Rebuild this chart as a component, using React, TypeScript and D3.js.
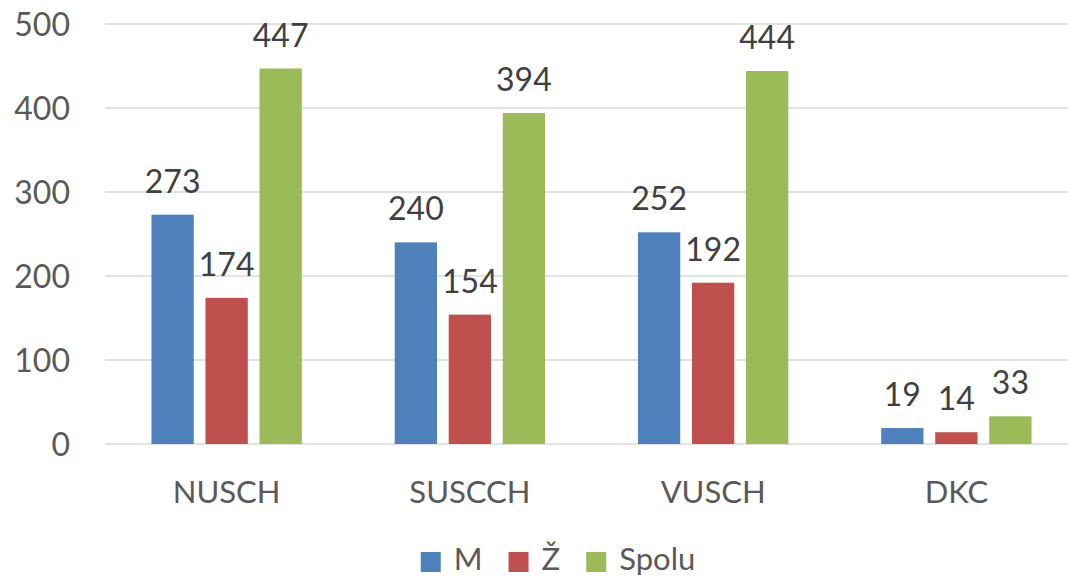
import React, { useEffect, useRef } from "react";
import * as d3 from "d3";

const categories = ["NUSCH", "SUSCCH", "VUSCH", "DKC"];
const seriesNames = ["M", "Ž", "Spolu"];
const valuesM = [273, 240, 252, 19];
const valuesZ = [174, 154, 192, 14];
const valuesSpolu = [447, 394, 444, 33];
const yTicks = [0, 100, 200, 300, 400, 500];
const colors = ["#4F81BD", "#C0504D", "#9BBB59"];

const W = 1068;
const H = 578;
const FONT = "Lato, 'Open Sans', sans-serif";

export default function App() {
  const ref = useRef<SVGSVGElement | null>(null);

  useEffect(() => {
    const svg = d3.select(ref.current);
    svg.selectAll("*").remove();

    const series = [valuesM, valuesZ, valuesSpolu];
    const x0 = d3.scaleBand<string>().domain(categories).range([105, 1078]).paddingInner(0.382).paddingOuter(0.191);
    const x1 = d3.scaleBand<number>().domain([0, 1, 2]).range([0, x0.bandwidth()]).paddingInner(0.217).paddingOuter(0);
    const y = d3.scaleLinear().domain([0, 500]).range([444, 24]);

    // gridlines
    svg.append("g")
      .selectAll("line")
      .data(yTicks)
      .join("line")
      .attr("x1", 105)
      .attr("x2", W)
      .attr("y1", (d) => y(d))
      .attr("y2", (d) => y(d))
      .attr("stroke", "#d9d9d9")
      .attr("stroke-width", 1.5);

    // y tick labels
    svg.append("g")
      .selectAll("text")
      .data(yTicks)
      .join("text")
      .attr("x", 70)
      .attr("y", (d) => y(d))
      .attr("dy", "0.36em")
      .attr("text-anchor", "end")
      .attr("font-family", FONT)
      .attr("font-size", 32)
      .attr("fill", "#595959")
      .text((d) => String(d));

    // bars
    const groups = svg.append("g")
      .selectAll("g")
      .data(categories)
      .join("g")
      .attr("transform", (c) => `translate(${x0(c)},0)`);

    groups.selectAll("rect")
      .data((c) => series.map((s, si) => ({ si, v: s[categories.indexOf(c)] })))
      .join("rect")
      .attr("x", (d) => x1(d.si)!)
      .attr("y", (d) => y(d.v))
      .attr("width", x1.bandwidth())
      .attr("height", (d) => y(0) - y(d.v))
      .attr("fill", (d) => colors[d.si]);

    groups.selectAll("text.lbl")
      .data((c) => series.map((s, si) => ({ si, v: s[categories.indexOf(c)] })))
      .join("text")
      .attr("class", "lbl")
      .attr("x", (d) => x1(d.si)! + x1.bandwidth() / 2)
      .attr("y", (d) => y(d.v) - 22)
      .attr("text-anchor", "middle")
      .attr("font-family", FONT)
      .attr("font-size", 32)
      .attr("fill", "#404040")
      .text((d) => String(d.v));

    // category labels
    svg.append("g")
      .selectAll("text")
      .data(categories)
      .join("text")
      .attr("x", (c) => x0(c)! + x0.bandwidth() / 2)
      .attr("y", 503)
      .attr("text-anchor", "middle")
      .attr("font-family", FONT)
      .attr("font-size", 31)
      .attr("fill", "#595959")
      .text((c) => c);

    // legend
    const leg = svg.append("g");
    const items = seriesNames.map((name, i) => {
      const g = leg.append("g");
      g.append("rect").attr("x", 0).attr("y", -18).attr("width", 20).attr("height", 20).attr("fill", colors[i]);
      const t = g.append("text")
        .attr("x", 33)
        .attr("y", 0)
        .attr("font-family", FONT)
        .attr("font-size", 31)
        .attr("fill", "#595959")
        .text(name);
      const w = 33 + (t.node() as SVGTextElement).getComputedTextLength();
      return { g, w };
    });
    const gap = 26;
    const total = d3.sum(items, (d) => d.w) + gap * (items.length - 1);
    let cx = 558 - total / 2;
    items.forEach((it) => {
      it.g.attr("transform", `translate(${cx},570)`);
      cx += it.w + gap;
    });
  }, []);

  return (
    <svg ref={ref} width={W} height={H} style={{ position: "absolute", left: 0, top: 0, background: "#fff" }} />
  );
}
